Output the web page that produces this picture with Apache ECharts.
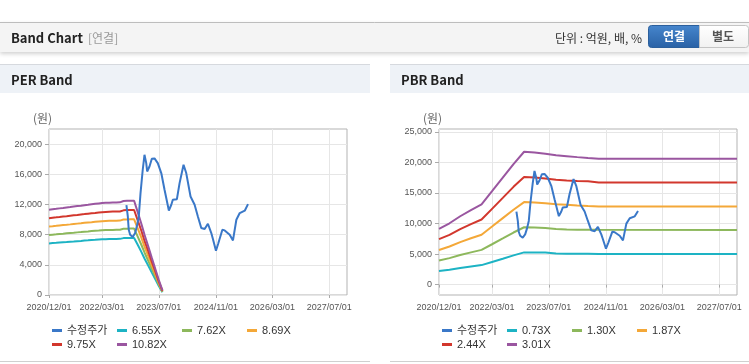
<!DOCTYPE html>
<html><head><meta charset="utf-8">
<script src="https://cdn.jsdelivr.net/npm/echarts@6/dist/echarts.min.js"></script>
<style>html,body{margin:0;padding:0;background:#fff}#c{width:749px;height:364px}</style>
</head><body><div id="c"></div>
<script>
// ---------- data ----------
const xTickLabels = ['2020/12/01','2022/03/01','2023/07/01','2024/11/01','2026/03/01','2027/07/01'];
const xMin = '2020/12/01';
const xMax = '2027/12/01';
const perTicks = [0,4000,8000,12000,16000,20000];
const pbrTicks = [0,5000,10000,15000,20000,25000];

const priceName = '수정주가';
const priceDates = ['2022/09/26','2022/10/08','2022/10/16','2022/10/28','2022/11/19','2022/12/10','2022/12/26','2023/01/10','2023/01/25','2023/02/13','2023/02/28','2023/03/15','2023/03/23','2023/04/12','2023/05/02','2023/05/25','2023/06/22','2023/07/22','2023/08/19','2023/09/25','2023/10/16','2023/10/29','2023/12/03','2023/12/26','2024/01/29','2024/02/21','2024/03/29','2024/05/03','2024/05/31','2024/06/29','2024/07/28','2024/08/25','2024/09/23','2024/10/07','2024/11/02','2024/11/21','2024/12/27','2025/01/16','2025/02/28','2025/03/28','2025/04/26','2025/05/25','2025/07/07','2025/08/04'];
const priceValues = [11920,10410,8650,7990,7680,8210,9200,10410,13510,16600,18580,17480,16370,17030,18050,18100,17480,16160,13950,11200,11960,12620,12700,14830,17260,16160,13060,11960,10410,8870,8740,9440,8210,7420,5870,6800,8650,8560,7990,7230,9970,10860,11170,12050];

const perBandDates = ['2020/12/01','2021/01/01','2021/02/01','2021/03/01','2021/04/01','2021/05/01','2021/06/01','2021/07/01','2021/08/01','2021/09/01','2021/10/01','2021/11/01','2021/12/01','2022/01/01','2022/02/01','2022/03/01','2022/04/01','2022/05/01','2022/06/01','2022/07/01','2022/08/01','2022/09/01','2022/10/01','2022/11/01','2022/12/01','2023/01/01','2023/02/01','2023/03/01','2023/04/01','2023/05/01','2023/06/01','2023/07/01','2023/08/01'];
const perNames = ['6.55X','7.62X','8.69X','9.75X','10.82X'];
const per655  = [6840,6880,6910,6950,6990,7020,7060,7090,7130,7170,7210,7240,7280,7310,7350,7380,7400,7410,7420,7430,7440,7540,7560,7560,7560,6650,5720,4810,3900,3000,2090,1200,380];
const per762  = [7960,8000,8040,8090,8130,8170,8210,8250,8300,8340,8380,8420,8470,8510,8550,8590,8610,8620,8630,8640,8650,8770,8790,8800,8800,7730,6660,5600,4540,3490,2430,1390,440];
const per869  = [9080,9120,9170,9220,9270,9310,9360,9410,9460,9510,9560,9610,9650,9700,9750,9790,9810,9830,9840,9850,9860,10000,10020,10030,10030,8820,7590,6380,5180,3980,2770,1590,500];
const per975  = [10180,10240,10290,10340,10400,10450,10510,10560,10610,10670,10720,10780,10830,10880,10940,10980,11010,11030,11050,11060,11070,11220,11250,11260,11260,9900,8520,7160,5810,4460,3110,1780,560];
const per1082 = [11300,11360,11420,11480,11540,11600,11660,11720,11780,11840,11900,11960,12020,12080,12140,12190,12220,12240,12260,12270,12280,12450,12480,12490,12490,10980,9450,7950,6450,4950,3450,1980,620];

const pbrBandDates = ['2020/12/01','2021/03/01','2021/06/01','2021/09/01','2021/12/01','2022/03/01','2022/06/01','2022/09/01','2022/12/01','2023/03/01','2023/06/01','2023/09/01','2023/12/01','2024/03/01','2024/06/01','2024/09/01','2027/12/01'];
const pbrNames = ['0.73X','1.30X','1.87X','2.44X','3.01X'];
const pbr073 = [2210,2430,2710,2960,3190,3710,4240,4780,5270,5250,5240,5100,5060,5040,5030,5020,5010];
const pbr130 = [3930,4330,4830,5270,5680,6600,7550,8520,9380,9330,9240,9100,9000,8990,8980,8960,8950];
const pbr187 = [5650,6230,6950,7580,8160,9490,10870,12250,13500,13420,13300,13140,13050,12950,12860,12780,12770];
const pbr244 = [7450,8130,9060,9890,10650,12390,14180,15990,17610,17510,17350,17150,17020,16960,16920,16700,16690];
const pbr301 = [9100,10030,11180,12200,13140,15280,17490,19720,21730,21600,21400,21150,21000,20850,20700,20600,20590];

const bandColors = ['#1db3c4','#8db85c','#f4a838','#d2372d','#9a56a0'];
const priceColor = '#3a78c8';

// ---------- chart ----------
const ts = s => { const p = s.split('/'); return new Date(+p[0], +p[1] - 1, +p[2]).getTime(); };
const zip = (d, v) => d.map((x, i) => [ts(x), v[i]]);
const fmtDate = v => { const d = new Date(v); const p = n => (n < 10 ? '0' : '') + n; return d.getFullYear() + '/' + p(d.getMonth() + 1) + '/' + p(d.getDate()); };
const fmtNum = v => Number(v).toLocaleString('en-US');
const axisFont = 'Liberation Sans';
const xTickValues = xTickLabels.map(ts);

function xAxisOf(i) {
  return {
    type: 'value', gridIndex: i, min: ts(xMin), max: ts(xMax), scale: true,
    axisLine: { show: false },
    axisTick: { show: true, length: 3, lineStyle: { color: '#aaa' }, customValues: xTickValues },
    axisLabel: { customValues: xTickValues, formatter: fmtDate, color: '#555', fontSize: 9, fontFamily: axisFont, margin: 8 },
    splitLine: { show: true, lineStyle: { color: '#e6e6e6', width: 1 } }
  };
}
function yAxisOf(i, min, max, ticks) {
  return {
    type: 'value', gridIndex: i, min: min, max: max,
    axisLine: { show: false },
    axisTick: { show: true, length: 4, lineStyle: { color: '#aaa' }, customValues: ticks },
    axisLabel: { customValues: ticks, formatter: fmtNum, color: '#555', fontSize: 9, fontFamily: axisFont, margin: 7 },
    splitLine: { show: true, lineStyle: { color: '#e6e6e6', width: 1 } }
  };
}
function lineSeries(name, data, color, idx, z) {
  return {
    type: 'line', name: name, data: data, xAxisIndex: idx, yAxisIndex: idx,
    showSymbol: false, symbol: 'none', z: z,
    lineStyle: { color: color, width: 2 }, itemStyle: { color: color },
    emphasis: { disabled: true }
  };
}
function legendOf(left, names) {
  return {
    left: left, top: 325, width: 270, padding: 0, orient: 'horizontal',
    itemWidth: 10, itemHeight: 3, itemGap: 3, icon: 'rect', selectedMode: false,
    data: names,
    textStyle: { fontSize: 11, color: '#333', width: 47, lineHeight: 10, fontFamily: 'Liberation Sans, "Noto Sans CJK KR"' }
  };
}

const perBands = [per655, per762, per869, per975, per1082];
const pbrBands = [pbr073, pbr130, pbr187, pbr244, pbr301];
const series = [];
perBands.forEach((b, i) => series.push(lineSeries(perNames[i], zip(perBandDates, b), bandColors[i], 0, 2)));
series.push(lineSeries(priceName, zip(priceDates, priceValues), priceColor, 0, 3));
pbrBands.forEach((b, i) => series.push(lineSeries(pbrNames[i], zip(pbrBandDates, b), bandColors[i], 1, 2)));
series.push(lineSeries(priceName, zip(priceDates, priceValues), priceColor, 1, 3));

const cjk = '"Noto Sans CJK KR"';
const btnGrad = new echarts.graphic.LinearGradient(0, 0, 0, 1, [{ offset: 0, color: '#4686cd' }, { offset: 1, color: '#2961a5' }]);
const btnGrad2 = new echarts.graphic.LinearGradient(0, 0, 0, 1, [{ offset: 0, color: '#ffffff' }, { offset: 1, color: '#f1f1f1' }]);

const graphic = [
  { type: 'rect', z: -5, shape: { x: 0, y: 22, width: 749, height: 30 }, style: { fill: '#f4f4f4', shadowBlur: 4, shadowOffsetY: 2, shadowColor: 'rgba(0,0,0,0.18)' } },
  { type: 'line', z: -4, shape: { x1: 0, y1: 22.5, x2: 749, y2: 22.5 }, style: { stroke: '#bdbdbd', lineWidth: 1 } },
  { type: 'text', x: 11, y: 38, style: { text: 'Band Chart', font: 'bold 13px ' + cjk, fill: '#222', verticalAlign: 'middle' } },
  { type: 'text', x: 88, y: 38, style: { text: '[연결]', font: '12px ' + cjk, fill: '#999', verticalAlign: 'middle' } },
  { type: 'text', x: 642, y: 38.5, style: { text: '단위 : 억원, 배, %', font: '12px ' + cjk, fill: '#333', align: 'right', verticalAlign: 'middle' } },
  { type: 'rect', shape: { x: 648.5, y: 25.5, width: 51, height: 22, r: [3, 0, 0, 3] }, style: { fill: btnGrad, stroke: '#2b5f9c' } },
  { type: 'text', x: 674, y: 36.5, style: { text: '연결', font: 'bold 12px ' + cjk, fill: '#fff', align: 'center', verticalAlign: 'middle' } },
  { type: 'rect', shape: { x: 699.5, y: 25.5, width: 49, height: 22, r: [0, 3, 3, 0] }, style: { fill: btnGrad2, stroke: '#c4c4c4' } },
  { type: 'text', x: 723, y: 36.5, style: { text: '별도', font: 'bold 12px ' + cjk, fill: '#555', align: 'center', verticalAlign: 'middle' } },
  { type: 'rect', z: -5, shape: { x: 0, y: 64, width: 370, height: 29 }, style: { fill: '#eef2f7' } },
  { type: 'line', z: -4, shape: { x1: 0, y1: 64.5, x2: 370, y2: 64.5 }, style: { stroke: '#d6d9de', lineWidth: 1 } },
  { type: 'text', x: 11, y: 80.5, style: { text: 'PER Band', font: 'bold 13px ' + cjk, fill: '#222', verticalAlign: 'middle' } },
  { type: 'rect', z: -5, shape: { x: 390, y: 64, width: 359, height: 29 }, style: { fill: '#eef2f7' } },
  { type: 'line', z: -4, shape: { x1: 390, y1: 64.5, x2: 749, y2: 64.5 }, style: { stroke: '#d6d9de', lineWidth: 1 } },
  { type: 'text', x: 401, y: 80.5, style: { text: 'PBR Band', font: 'bold 13px ' + cjk, fill: '#222', verticalAlign: 'middle' } },
  { type: 'line', shape: { x1: 0, y1: 361.5, x2: 370, y2: 361.5 }, style: { stroke: '#d0d0d0', lineWidth: 1 } },
  { type: 'line', shape: { x1: 390, y1: 361.5, x2: 749, y2: 361.5 }, style: { stroke: '#d0d0d0', lineWidth: 1 } },
  { type: 'text', x: 33, y: 118, style: { text: '(원)', font: '12px ' + cjk, fill: '#666', verticalAlign: 'middle' } },
  { type: 'text', x: 423, y: 118, style: { text: '(원)', font: '12px ' + cjk, fill: '#666', verticalAlign: 'middle' } }
];

const chart = echarts.init(document.getElementById('c'), null, { renderer: 'canvas' });
chart.setOption({
  animation: false,
  backgroundColor: '#fff',
  grid: [
    { left: 49, right: 402, top: 129, bottom: 69, show: true, borderColor: '#b3b3b3', borderWidth: 1, backgroundColor: '#fff' },
    { left: 439, right: 12, top: 129, bottom: 69, show: true, borderColor: '#b3b3b3', borderWidth: 1, backgroundColor: '#fff' }
  ],
  xAxis: [xAxisOf(0), xAxisOf(1)],
  yAxis: [yAxisOf(0, 0, 22000, perTicks), yAxisOf(1, -1700, 25450, pbrTicks)],
  legend: [legendOf(52, [priceName].concat(perNames)), legendOf(442, [priceName].concat(pbrNames))],
  graphic: graphic,
  series: series
});
</script></body></html>
